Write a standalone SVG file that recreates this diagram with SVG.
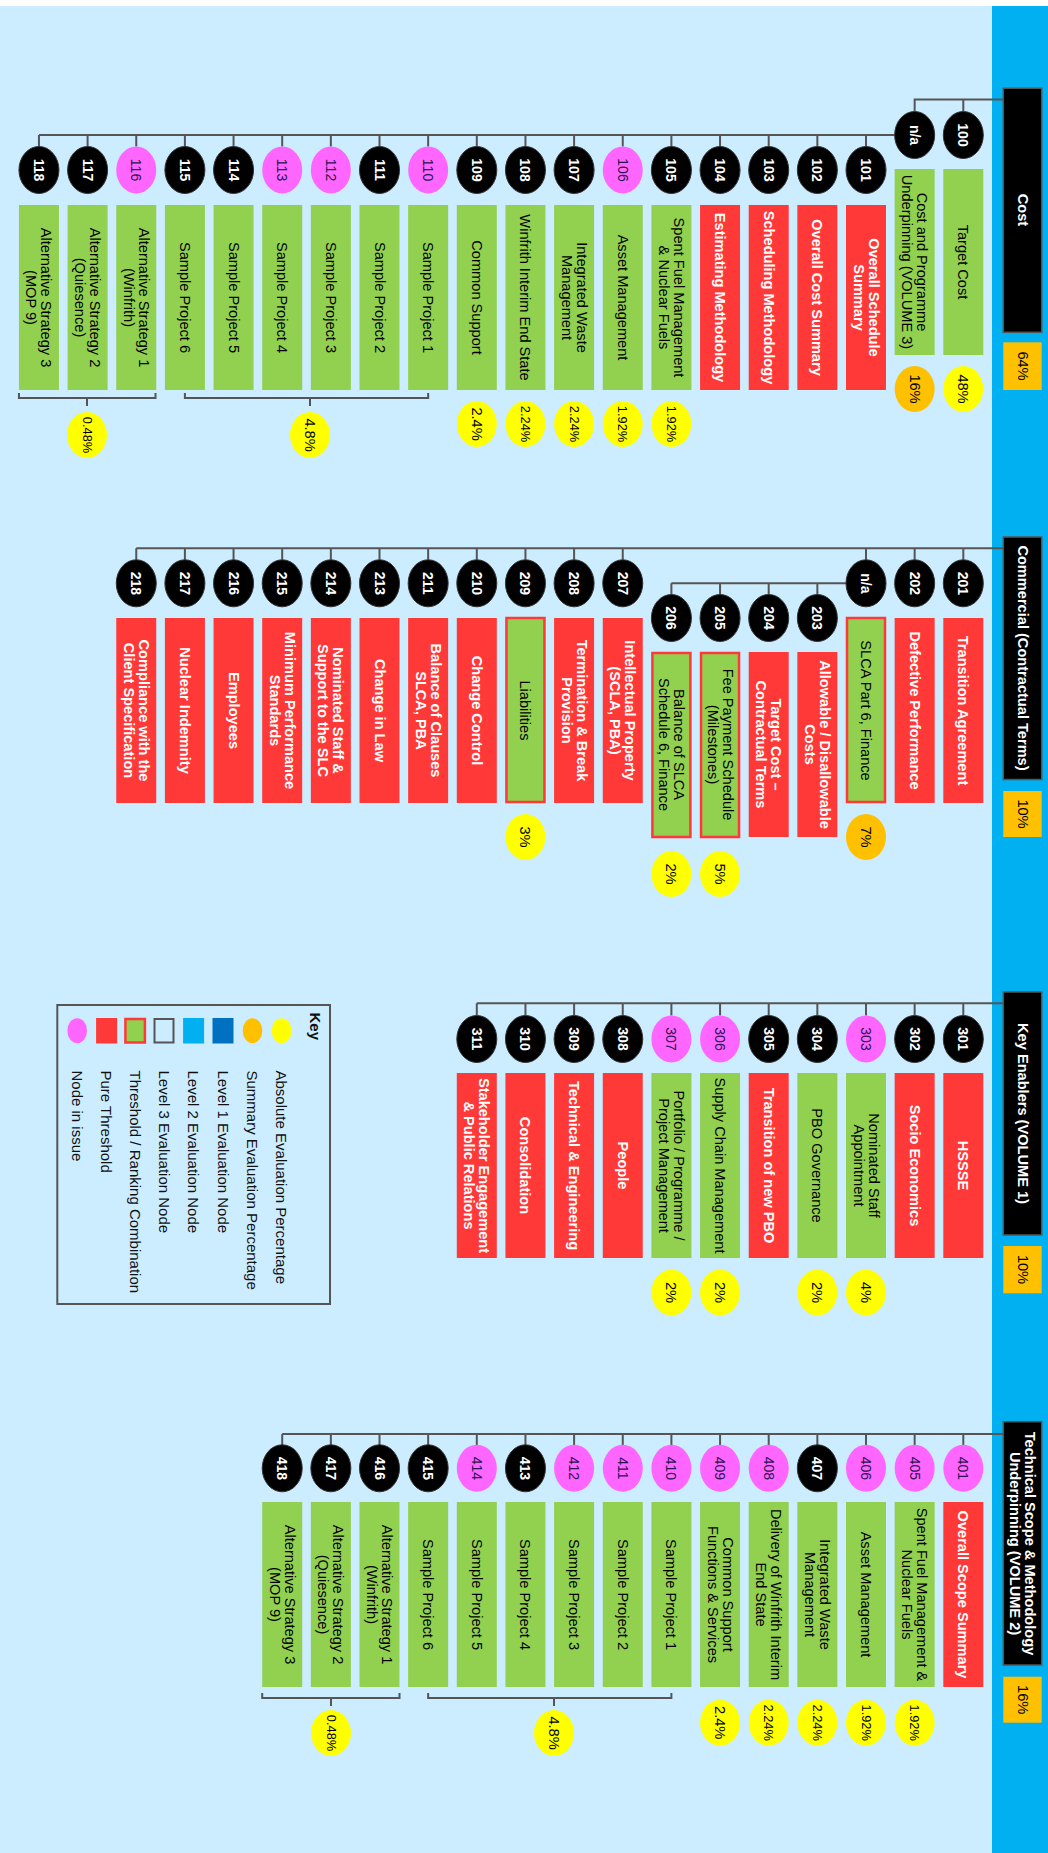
<svg xmlns="http://www.w3.org/2000/svg" width="1048" height="1853" viewBox="0 0 1048 1853">
<style>
.t{font-family:"Liberation Sans",Arial,sans-serif;font-size:14.6px;text-anchor:middle;dominant-baseline:central}
.nl{font-size:14px;font-weight:bold}
.ps{font-size:12.8px}
.wb{fill:#fff;font-weight:bold}
.bk{fill:#000}
.pk{fill:#2a1450;font-weight:normal}
.ln{stroke:#555;stroke-width:2;fill:none}
.hdr{fill:#000;stroke:#555;stroke-width:1.5}
.ob{fill:#FFC000}
.nb{fill:#000;stroke:#333;stroke-width:1}
.np{fill:#FF66FF}
.r{fill:#FF3838}
.g{fill:#92D050}
.gr{fill:#92D050;stroke:#FF3838;stroke-width:2.5}
.y{fill:#FFFF00}
.o{fill:#FFC000}
.kt{font-family:"Liberation Sans",Arial,sans-serif;font-size:15px;dominant-baseline:central;fill:#111}
</style>
<rect x="0" y="0" width="1048" height="1853" fill="#CCECFF"/>
<rect x="0" y="0" width="1048" height="6" fill="#fff"/>
<rect x="992" y="6" width="56" height="1847" fill="#00B0F0"/>

<g id="connectors">
<path class="ln" d="M1003,99.5 H914.65 V111.5 M963.3,99.5 V111.5 M894.65,135 H38.95 M866,135 V146.5 M817.35,135 V146.5 M768.7,135 V146.5 M720.05,135 V146.5 M671.4,135 V146.5 M622.75,135 V146.5 M574.1,135 V146.5 M525.45,135 V146.5 M476.8,135 V146.5 M428.15,135 V146.5 M379.5,135 V146.5 M330.85,135 V146.5 M282.2,135 V146.5 M233.55,135 V146.5 M184.9,135 V146.5 M136.25,135 V146.5 M87.6,135 V146.5 M38.95,135 V146.5"/>
<path class="ln" d="M18.95,393 V398 H155.5 V393 M87,398 V406 M184.9,393 V398 H428.15 V393 M310,398 V406"/>
<path class="ln" d="M1003,548.3 H136.25 M963.3,548.3 V559.8 M914.65,548.3 V559.8 M866,548.3 V559.8 M622.75,548.3 V559.8 M574.1,548.3 V559.8 M525.45,548.3 V559.8 M476.8,548.3 V559.8 M428.15,548.3 V559.8 M379.5,548.3 V559.8 M330.85,548.3 V559.8 M282.2,548.3 V559.8 M233.55,548.3 V559.8 M184.9,548.3 V559.8 M136.25,548.3 V559.8 M846,583.3 H671.4 M817.35,583.3 V594.5 M768.7,583.3 V594.5 M720.05,583.3 V594.5 M671.4,583.3 V594.5"/>
<path class="ln" d="M1003,1003.3 H476.8 M963.3,1003.3 V1015.5 M914.65,1003.3 V1015.5 M866,1003.3 V1015.5 M817.35,1003.3 V1015.5 M768.7,1003.3 V1015.5 M720.05,1003.3 V1015.5 M671.4,1003.3 V1015.5 M622.75,1003.3 V1015.5 M574.1,1003.3 V1015.5 M525.45,1003.3 V1015.5 M476.8,1003.3 V1015.5"/>
<path class="ln" d="M1003,1434 H282.2 M963.3,1434 V1445 M914.65,1434 V1445 M866,1434 V1445 M817.35,1434 V1445 M768.7,1434 V1445 M720.05,1434 V1445 M671.4,1434 V1445 M622.75,1434 V1445 M574.1,1434 V1445 M525.45,1434 V1445 M476.8,1434 V1445 M428.15,1434 V1445 M379.5,1434 V1445 M330.85,1434 V1445 M282.2,1434 V1445"/>
<path class="ln" d="M428.15,1693 V1698 H671.4 V1693 M554,1698 V1706 M262.2,1693 V1698 H399.5 V1693 M331,1698 V1706"/>
</g>

<!-- ===== COST ===== -->
<g id="cost">
<rect class="hdr" x="1003.3" y="88.3" width="38.4" height="244"/>
<text class="t wb" transform="translate(1022.5,210) rotate(90)">Cost</text>
<rect class="ob" x="1003.3" y="342.3" width="38.4" height="47.7"/>
<text class="t bk" transform="translate(1022.5,366) rotate(90)">64%</text>
</g>
<g id="c100"><ellipse class="nb" cx="963.3" cy="135" rx="20" ry="23.5"/><text class="t nl wb" transform="translate(963.3,135) rotate(90)">100</text><rect class="g" x="943.3" y="169" width="40" height="186"/><text class="t bk" transform="translate(963.3,262) rotate(90)">Target Cost</text><ellipse class="y" cx="963.3" cy="389" rx="20" ry="23"/><text class="t bk" transform="translate(963.3,389) rotate(90)">48%</text></g>
<g id="cna"><ellipse class="nb" cx="914.65" cy="135" rx="20" ry="23.5"/><text class="t nl wb" transform="translate(914.65,135) rotate(90)">n/a</text><rect class="g" x="894.65" y="169" width="40" height="186"/><text class="t bk" transform="translate(914.65,262) rotate(90)"><tspan x="0" y="-7.5">Cost and Programme</tspan><tspan x="0" y="7.5">Underpinning (VOLUME 3)</tspan></text><ellipse class="o" cx="914.65" cy="389" rx="20" ry="23"/><text class="t bk" transform="translate(914.65,389) rotate(90)">16%</text></g>
<g id="c101"><ellipse class="nb" cx="866" cy="170" rx="20" ry="23.5"/><text class="t nl wb" transform="translate(866,170) rotate(90)">101</text><rect class="r" x="846" y="205" width="40" height="185"/><text class="t wb" transform="translate(866,297.5) rotate(90)"><tspan x="0" y="-7.5">Overall Schedule</tspan><tspan x="0" y="7.5">Summary</tspan></text></g>
<g id="c102"><ellipse class="nb" cx="817.35" cy="170" rx="20" ry="23.5"/><text class="t nl wb" transform="translate(817.35,170) rotate(90)">102</text><rect class="r" x="797.35" y="205" width="40" height="185"/><text class="t wb" transform="translate(817.35,297.5) rotate(90)">Overall Cost Summary</text></g>
<g id="c103"><ellipse class="nb" cx="768.7" cy="170" rx="20" ry="23.5"/><text class="t nl wb" transform="translate(768.7,170) rotate(90)">103</text><rect class="r" x="748.7" y="205" width="40" height="185"/><text class="t wb" transform="translate(768.7,297.5) rotate(90)">Scheduling Methodology</text></g>
<g id="c104"><ellipse class="nb" cx="720.05" cy="170" rx="20" ry="23.5"/><text class="t nl wb" transform="translate(720.05,170) rotate(90)">104</text><rect class="r" x="700.05" y="205" width="40" height="185"/><text class="t wb" transform="translate(720.05,297.5) rotate(90)">Estimating Methodology</text></g>
<g id="c105"><ellipse class="nb" cx="671.4" cy="170" rx="20" ry="23.5"/><text class="t nl wb" transform="translate(671.4,170) rotate(90)">105</text><rect class="g" x="651.4" y="205" width="40" height="185"/><text class="t bk" transform="translate(671.4,297.5) rotate(90)"><tspan x="0" y="-7.5">Spent Fuel Management</tspan><tspan x="0" y="7.5">&amp; Nuclear Fuels</tspan></text><ellipse class="y" cx="671.4" cy="424" rx="20" ry="23"/><text class="t ps bk" transform="translate(671.4,424) rotate(90)">1.92%</text></g>
<g id="c106"><ellipse class="np" cx="622.75" cy="170" rx="20" ry="23.5"/><text class="t nl pk" transform="translate(622.75,170) rotate(90)">106</text><rect class="g" x="602.75" y="205" width="40" height="185"/><text class="t bk" transform="translate(622.75,297.5) rotate(90)">Asset Management</text><ellipse class="y" cx="622.75" cy="424" rx="20" ry="23"/><text class="t ps bk" transform="translate(622.75,424) rotate(90)">1.92%</text></g>
<g id="c107"><ellipse class="nb" cx="574.1" cy="170" rx="20" ry="23.5"/><text class="t nl wb" transform="translate(574.1,170) rotate(90)">107</text><rect class="g" x="554.1" y="205" width="40" height="185"/><text class="t bk" transform="translate(574.1,297.5) rotate(90)"><tspan x="0" y="-7.5">Integrated Waste</tspan><tspan x="0" y="7.5">Management</tspan></text><ellipse class="y" cx="574.1" cy="424" rx="20" ry="23"/><text class="t ps bk" transform="translate(574.1,424) rotate(90)">2.24%</text></g>
<g id="c108"><ellipse class="nb" cx="525.45" cy="170" rx="20" ry="23.5"/><text class="t nl wb" transform="translate(525.45,170) rotate(90)">108</text><rect class="g" x="505.45" y="205" width="40" height="185"/><text class="t bk" transform="translate(525.45,297.5) rotate(90)">Winfrith Interim End State</text><ellipse class="y" cx="525.45" cy="424" rx="20" ry="23"/><text class="t ps bk" transform="translate(525.45,424) rotate(90)">2.24%</text></g>
<g id="c109"><ellipse class="nb" cx="476.8" cy="170" rx="20" ry="23.5"/><text class="t nl wb" transform="translate(476.8,170) rotate(90)">109</text><rect class="g" x="456.8" y="205" width="40" height="185"/><text class="t bk" transform="translate(476.8,297.5) rotate(90)">Common Support</text><ellipse class="y" cx="476.8" cy="424" rx="20" ry="23"/><text class="t bk" transform="translate(476.8,424) rotate(90)">2.4%</text></g>
<g id="c110"><ellipse class="np" cx="428.15" cy="170" rx="20" ry="23.5"/><text class="t nl pk" transform="translate(428.15,170) rotate(90)">110</text><rect class="g" x="408.15" y="205" width="40" height="185"/><text class="t bk" transform="translate(428.15,297.5) rotate(90)">Sample Project 1</text></g>
<g id="c111"><ellipse class="nb" cx="379.5" cy="170" rx="20" ry="23.5"/><text class="t nl wb" transform="translate(379.5,170) rotate(90)">111</text><rect class="g" x="359.5" y="205" width="40" height="185"/><text class="t bk" transform="translate(379.5,297.5) rotate(90)">Sample Project 2</text></g>
<g id="c112"><ellipse class="np" cx="330.85" cy="170" rx="20" ry="23.5"/><text class="t nl pk" transform="translate(330.85,170) rotate(90)">112</text><rect class="g" x="310.85" y="205" width="40" height="185"/><text class="t bk" transform="translate(330.85,297.5) rotate(90)">Sample Project 3</text></g>
<g id="c113"><ellipse class="np" cx="282.2" cy="170" rx="20" ry="23.5"/><text class="t nl pk" transform="translate(282.2,170) rotate(90)">113</text><rect class="g" x="262.2" y="205" width="40" height="185"/><text class="t bk" transform="translate(282.2,297.5) rotate(90)">Sample Project 4</text></g>
<g id="c114"><ellipse class="nb" cx="233.55" cy="170" rx="20" ry="23.5"/><text class="t nl wb" transform="translate(233.55,170) rotate(90)">114</text><rect class="g" x="213.55" y="205" width="40" height="185"/><text class="t bk" transform="translate(233.55,297.5) rotate(90)">Sample Project 5</text></g>
<g id="c115"><ellipse class="nb" cx="184.9" cy="170" rx="20" ry="23.5"/><text class="t nl wb" transform="translate(184.9,170) rotate(90)">115</text><rect class="g" x="164.9" y="205" width="40" height="185"/><text class="t bk" transform="translate(184.9,297.5) rotate(90)">Sample Project 6</text></g>
<g id="c116"><ellipse class="np" cx="136.25" cy="170" rx="20" ry="23.5"/><text class="t nl pk" transform="translate(136.25,170) rotate(90)">116</text><rect class="g" x="116.25" y="205" width="40" height="185"/><text class="t bk" transform="translate(136.25,297.5) rotate(90)"><tspan x="0" y="-7.5">Alternative Strategy 1</tspan><tspan x="0" y="7.5">(Winfrith)</tspan></text></g>
<g id="c117"><ellipse class="nb" cx="87.6" cy="170" rx="20" ry="23.5"/><text class="t nl wb" transform="translate(87.6,170) rotate(90)">117</text><rect class="g" x="67.6" y="205" width="40" height="185"/><text class="t bk" transform="translate(87.6,297.5) rotate(90)"><tspan x="0" y="-7.5">Alternative Strategy 2</tspan><tspan x="0" y="7.5">(Quiesence)</tspan></text></g>
<g id="c118"><ellipse class="nb" cx="38.95" cy="170" rx="20" ry="23.5"/><text class="t nl wb" transform="translate(38.95,170) rotate(90)">118</text><rect class="g" x="18.95" y="205" width="40" height="185"/><text class="t bk" transform="translate(38.95,297.5) rotate(90)"><tspan x="0" y="-7.5">Alternative Strategy 3</tspan><tspan x="0" y="7.5">(MOP 9)</tspan></text></g>
<g id="c-p1"><ellipse class="y" cx="87" cy="435" rx="20" ry="23"/><text class="t ps bk" transform="translate(87,435) rotate(90)">0.48%</text></g>
<g id="c-p2"><ellipse class="y" cx="310" cy="435" rx="20" ry="23"/><text class="t bk" transform="translate(310,435) rotate(90)">4.8%</text></g>

<!-- ===== COMMERCIAL ===== -->
<g id="commercial">
<rect class="hdr" x="1003.3" y="537" width="38.4" height="242.5"/>
<text class="t wb" transform="translate(1022.5,658) rotate(90)">Commercial (Contractual Terms)</text>
<rect class="ob" x="1003.3" y="791" width="38.4" height="46"/>
<text class="t bk" transform="translate(1022.5,814) rotate(90)">10%</text>
</g>
<g id="m201"><ellipse class="nb" cx="963.3" cy="583.3" rx="20" ry="23.5"/><text class="t nl wb" transform="translate(963.3,583.3) rotate(90)">201</text><rect class="r" x="943.3" y="618" width="40" height="185"/><text class="t wb" transform="translate(963.3,710.5) rotate(90)">Transition Agreement</text></g>
<g id="m202"><ellipse class="nb" cx="914.65" cy="583.3" rx="20" ry="23.5"/><text class="t nl wb" transform="translate(914.65,583.3) rotate(90)">202</text><rect class="r" x="894.65" y="618" width="40" height="185"/><text class="t wb" transform="translate(914.65,710.5) rotate(90)">Defective Performance</text></g>
<g id="mna"><ellipse class="nb" cx="866" cy="583.3" rx="20" ry="23.5"/><text class="t nl wb" transform="translate(866,583.3) rotate(90)">n/a</text><rect class="gr" x="847" y="618" width="38" height="184"/><text class="t bk" transform="translate(866,710.5) rotate(90)">SLCA Part 6, Finance</text><ellipse class="o" cx="866" cy="837" rx="20" ry="23"/><text class="t bk" transform="translate(866,837) rotate(90)">7%</text></g>
<g id="m203"><ellipse class="nb" cx="817.35" cy="618" rx="20" ry="23.5"/><text class="t nl wb" transform="translate(817.35,618) rotate(90)">203</text><rect class="r" x="797.35" y="652" width="40" height="185"/><text class="t wb" transform="translate(817.35,744.5) rotate(90)"><tspan x="0" y="-7.5">Allowable / Disallowable</tspan><tspan x="0" y="7.5">Costs</tspan></text></g>
<g id="m204"><ellipse class="nb" cx="768.7" cy="618" rx="20" ry="23.5"/><text class="t nl wb" transform="translate(768.7,618) rotate(90)">204</text><rect class="r" x="748.7" y="652" width="40" height="185"/><text class="t wb" transform="translate(768.7,744.5) rotate(90)"><tspan x="0" y="-7.5">Target Cost –</tspan><tspan x="0" y="7.5">Contractual Terms</tspan></text></g>
<g id="m205"><ellipse class="nb" cx="720.05" cy="618" rx="20" ry="23.5"/><text class="t nl wb" transform="translate(720.05,618) rotate(90)">205</text><rect class="gr" x="701.05" y="653" width="38" height="184"/><text class="t bk" transform="translate(720.05,744.5) rotate(90)"><tspan x="0" y="-7.5">Fee Payment Schedule</tspan><tspan x="0" y="7.5">(Milestones)</tspan></text><ellipse class="y" cx="720.05" cy="874" rx="20" ry="23"/><text class="t bk" transform="translate(720.05,874) rotate(90)">5%</text></g>
<g id="m206"><ellipse class="nb" cx="671.4" cy="618" rx="20" ry="23.5"/><text class="t nl wb" transform="translate(671.4,618) rotate(90)">206</text><rect class="gr" x="652.4" y="653" width="38" height="184"/><text class="t bk" transform="translate(671.4,744.5) rotate(90)"><tspan x="0" y="-7.5">Balance of SLCA</tspan><tspan x="0" y="7.5">Schedule 6, Finance</tspan></text><ellipse class="y" cx="671.4" cy="874" rx="20" ry="23"/><text class="t bk" transform="translate(671.4,874) rotate(90)">2%</text></g>
<g id="m207"><ellipse class="nb" cx="622.75" cy="583.3" rx="20" ry="23.5"/><text class="t nl wb" transform="translate(622.75,583.3) rotate(90)">207</text><rect class="r" x="602.75" y="618" width="40" height="185"/><text class="t wb" transform="translate(622.75,710.5) rotate(90)"><tspan x="0" y="-7.5">Intellectual Property</tspan><tspan x="0" y="7.5">(SCLA, PBA)</tspan></text></g>
<g id="m208"><ellipse class="nb" cx="574.1" cy="583.3" rx="20" ry="23.5"/><text class="t nl wb" transform="translate(574.1,583.3) rotate(90)">208</text><rect class="r" x="554.1" y="618" width="40" height="185"/><text class="t wb" transform="translate(574.1,710.5) rotate(90)"><tspan x="0" y="-7.5">Termination &amp; Break</tspan><tspan x="0" y="7.5">Provision</tspan></text></g>
<g id="m209"><ellipse class="nb" cx="525.45" cy="583.3" rx="20" ry="23.5"/><text class="t nl wb" transform="translate(525.45,583.3) rotate(90)">209</text><rect class="gr" x="506.45" y="618" width="38" height="184"/><text class="t bk" transform="translate(525.45,710.5) rotate(90)">Liabilities</text><ellipse class="y" cx="525.45" cy="837" rx="20" ry="23"/><text class="t bk" transform="translate(525.45,837) rotate(90)">3%</text></g>
<g id="m210"><ellipse class="nb" cx="476.8" cy="583.3" rx="20" ry="23.5"/><text class="t nl wb" transform="translate(476.8,583.3) rotate(90)">210</text><rect class="r" x="456.8" y="618" width="40" height="185"/><text class="t wb" transform="translate(476.8,710.5) rotate(90)">Change Control</text></g>
<g id="m211"><ellipse class="nb" cx="428.15" cy="583.3" rx="20" ry="23.5"/><text class="t nl wb" transform="translate(428.15,583.3) rotate(90)">211</text><rect class="r" x="408.15" y="618" width="40" height="185"/><text class="t wb" transform="translate(428.15,710.5) rotate(90)"><tspan x="0" y="-7.5">Balance of Clauses</tspan><tspan x="0" y="7.5">SLCA, PBA</tspan></text></g>
<g id="m213"><ellipse class="nb" cx="379.5" cy="583.3" rx="20" ry="23.5"/><text class="t nl wb" transform="translate(379.5,583.3) rotate(90)">213</text><rect class="r" x="359.5" y="618" width="40" height="185"/><text class="t wb" transform="translate(379.5,710.5) rotate(90)">Change in Law</text></g>
<g id="m214"><ellipse class="nb" cx="330.85" cy="583.3" rx="20" ry="23.5"/><text class="t nl wb" transform="translate(330.85,583.3) rotate(90)">214</text><rect class="r" x="310.85" y="618" width="40" height="185"/><text class="t wb" transform="translate(330.85,710.5) rotate(90)"><tspan x="0" y="-7.5">Nominated Staff &amp;</tspan><tspan x="0" y="7.5">Support to the SLC</tspan></text></g>
<g id="m215"><ellipse class="nb" cx="282.2" cy="583.3" rx="20" ry="23.5"/><text class="t nl wb" transform="translate(282.2,583.3) rotate(90)">215</text><rect class="r" x="262.2" y="618" width="40" height="185"/><text class="t wb" transform="translate(282.2,710.5) rotate(90)"><tspan x="0" y="-7.5">Minimum Performance</tspan><tspan x="0" y="7.5">Standards</tspan></text></g>
<g id="m216"><ellipse class="nb" cx="233.55" cy="583.3" rx="20" ry="23.5"/><text class="t nl wb" transform="translate(233.55,583.3) rotate(90)">216</text><rect class="r" x="213.55" y="618" width="40" height="185"/><text class="t wb" transform="translate(233.55,710.5) rotate(90)">Employees</text></g>
<g id="m217"><ellipse class="nb" cx="184.9" cy="583.3" rx="20" ry="23.5"/><text class="t nl wb" transform="translate(184.9,583.3) rotate(90)">217</text><rect class="r" x="164.9" y="618" width="40" height="185"/><text class="t wb" transform="translate(184.9,710.5) rotate(90)">Nuclear Indemnity</text></g>
<g id="m218"><ellipse class="nb" cx="136.25" cy="583.3" rx="20" ry="23.5"/><text class="t nl wb" transform="translate(136.25,583.3) rotate(90)">218</text><rect class="r" x="116.25" y="618" width="40" height="185"/><text class="t wb" transform="translate(136.25,710.5) rotate(90)"><tspan x="0" y="-7.5">Compliance with the</tspan><tspan x="0" y="7.5">Client Specification</tspan></text></g>

<!-- ===== KEY ENABLERS ===== -->
<g id="enablers">
<rect class="hdr" x="1003.3" y="992" width="38.4" height="243"/>
<text class="t wb" transform="translate(1022.5,1113.5) rotate(90)">Key Enablers (VOLUME 1)</text>
<rect class="ob" x="1003.3" y="1246" width="38.4" height="47.3"/>
<text class="t bk" transform="translate(1022.5,1269.5) rotate(90)">10%</text>
</g>
<g id="k301"><ellipse class="nb" cx="963.3" cy="1039" rx="20" ry="23.5"/><text class="t nl wb" transform="translate(963.3,1039) rotate(90)">301</text><rect class="r" x="943.3" y="1073" width="40" height="185"/><text class="t wb" transform="translate(963.3,1165.5) rotate(90)">HSSSE</text></g>
<g id="k302"><ellipse class="nb" cx="914.65" cy="1039" rx="20" ry="23.5"/><text class="t nl wb" transform="translate(914.65,1039) rotate(90)">302</text><rect class="r" x="894.65" y="1073" width="40" height="185"/><text class="t wb" transform="translate(914.65,1165.5) rotate(90)">Socio Economics</text></g>
<g id="k303"><ellipse class="np" cx="866" cy="1039" rx="20" ry="23.5"/><text class="t nl pk" transform="translate(866,1039) rotate(90)">303</text><rect class="g" x="846" y="1073" width="40" height="185"/><text class="t bk" transform="translate(866,1165.5) rotate(90)"><tspan x="0" y="-7.5">Nominated Staff</tspan><tspan x="0" y="7.5">Appointment</tspan></text><ellipse class="y" cx="866" cy="1292.5" rx="20" ry="23"/><text class="t bk" transform="translate(866,1292.5) rotate(90)">4%</text></g>
<g id="k304"><ellipse class="nb" cx="817.35" cy="1039" rx="20" ry="23.5"/><text class="t nl wb" transform="translate(817.35,1039) rotate(90)">304</text><rect class="g" x="797.35" y="1073" width="40" height="185"/><text class="t bk" transform="translate(817.35,1165.5) rotate(90)">PBO Governance</text><ellipse class="y" cx="817.35" cy="1292.5" rx="20" ry="23"/><text class="t bk" transform="translate(817.35,1292.5) rotate(90)">2%</text></g>
<g id="k305"><ellipse class="nb" cx="768.7" cy="1039" rx="20" ry="23.5"/><text class="t nl wb" transform="translate(768.7,1039) rotate(90)">305</text><rect class="r" x="748.7" y="1073" width="40" height="185"/><text class="t wb" transform="translate(768.7,1165.5) rotate(90)">Transition of new PBO</text></g>
<g id="k306"><ellipse class="np" cx="720.05" cy="1039" rx="20" ry="23.5"/><text class="t nl pk" transform="translate(720.05,1039) rotate(90)">306</text><rect class="g" x="700.05" y="1073" width="40" height="185"/><text class="t bk" transform="translate(720.05,1165.5) rotate(90)">Supply Chain Management</text><ellipse class="y" cx="720.05" cy="1292.5" rx="20" ry="23"/><text class="t bk" transform="translate(720.05,1292.5) rotate(90)">2%</text></g>
<g id="k307"><ellipse class="np" cx="671.4" cy="1039" rx="20" ry="23.5"/><text class="t nl pk" transform="translate(671.4,1039) rotate(90)">307</text><rect class="g" x="651.4" y="1073" width="40" height="185"/><text class="t bk" transform="translate(671.4,1165.5) rotate(90)"><tspan x="0" y="-7.5">Portfolio / Programme /</tspan><tspan x="0" y="7.5">Project Management</tspan></text><ellipse class="y" cx="671.4" cy="1292.5" rx="20" ry="23"/><text class="t bk" transform="translate(671.4,1292.5) rotate(90)">2%</text></g>
<g id="k308"><ellipse class="nb" cx="622.75" cy="1039" rx="20" ry="23.5"/><text class="t nl wb" transform="translate(622.75,1039) rotate(90)">308</text><rect class="r" x="602.75" y="1073" width="40" height="185"/><text class="t wb" transform="translate(622.75,1165.5) rotate(90)">People</text></g>
<g id="k309"><ellipse class="nb" cx="574.1" cy="1039" rx="20" ry="23.5"/><text class="t nl wb" transform="translate(574.1,1039) rotate(90)">309</text><rect class="r" x="554.1" y="1073" width="40" height="185"/><text class="t wb" transform="translate(574.1,1165.5) rotate(90)">Technical &amp; Engineering</text></g>
<g id="k310"><ellipse class="nb" cx="525.45" cy="1039" rx="20" ry="23.5"/><text class="t nl wb" transform="translate(525.45,1039) rotate(90)">310</text><rect class="r" x="505.45" y="1073" width="40" height="185"/><text class="t wb" transform="translate(525.45,1165.5) rotate(90)">Consolidation</text></g>
<g id="k311"><ellipse class="nb" cx="476.8" cy="1039" rx="20" ry="23.5"/><text class="t nl wb" transform="translate(476.8,1039) rotate(90)">311</text><rect class="r" x="456.8" y="1073" width="40" height="185"/><text class="t wb" transform="translate(476.8,1165.5) rotate(90)"><tspan x="0" y="-7.5">Stakeholder Engagement</tspan><tspan x="0" y="7.5">&amp; Public Relations</tspan></text></g>

<!-- ===== KEY ===== -->
<g id="legend">
<rect x="57.3" y="1005" width="272.7" height="299" fill="none" stroke="#555" stroke-width="2"/>
<text class="kt" font-weight="bold" transform="translate(315.7,1012.5) rotate(90)">Key</text>
<ellipse class="y" cx="281.6" cy="1030.7" rx="9.8" ry="12.5"/>
<text class="kt" transform="translate(281.6,1070.5) rotate(90)">Absolute Evaluation Percentage</text>
<ellipse class="o" cx="252.5" cy="1030.7" rx="9.8" ry="12.5"/>
<text class="kt" transform="translate(252.5,1070.5) rotate(90)">Summary Evaluation Percentage</text>
<rect x="212.5" y="1018" width="21" height="25.5" fill="#0070C0"/>
<text class="kt" transform="translate(223,1070.5) rotate(90)">Level 1 Evaluation Node</text>
<rect x="183.1" y="1018" width="21" height="25.5" fill="#00B0F0"/>
<text class="kt" transform="translate(193.6,1070.5) rotate(90)">Level 2 Evaluation Node</text>
<rect x="154.5" y="1019" width="19" height="23.5" fill="none" stroke="#555" stroke-width="2"/>
<text class="kt" transform="translate(164.5,1070.5) rotate(90)">Level 3 Evaluation Node</text>
<rect class="gr" x="125.4" y="1019" width="19.5" height="23.5"/>
<text class="kt" transform="translate(135.4,1070.5) rotate(90)">Threshold / Ranking Combination</text>
<rect class="r" x="96.1" y="1018" width="21" height="25.5"/>
<text class="kt" transform="translate(106.6,1070.5) rotate(90)">Pure Threshold</text>
<ellipse class="np" cx="77.2" cy="1030.7" rx="9.8" ry="12.5"/>
<text class="kt" transform="translate(77.2,1070.5) rotate(90)">Node in issue</text>
</g>

<!-- ===== TECHNICAL ===== -->
<g id="technical">
<rect class="hdr" x="1003.3" y="1421.7" width="38.4" height="243.3"/>
<text class="t wb" transform="translate(1022.5,1543.5) rotate(90)"><tspan x="0" y="-7.5">Technical Scope &amp; Methodology</tspan><tspan x="0" y="7.5">Underpinning (VOLUME 2)</tspan></text>
<rect class="ob" x="1003.3" y="1676.7" width="38.4" height="46"/>
<text class="t bk" transform="translate(1022.5,1699.7) rotate(90)">16%</text>
</g>
<g id="t401"><ellipse class="np" cx="963.3" cy="1468.3" rx="20" ry="23.5"/><text class="t nl pk" transform="translate(963.3,1468.3) rotate(90)">401</text><rect class="r" x="943.3" y="1502" width="40" height="185"/><text class="t wb" transform="translate(963.3,1594.5) rotate(90)">Overall Scope Summary</text></g>
<g id="t405"><ellipse class="np" cx="914.65" cy="1468.3" rx="20" ry="23.5"/><text class="t nl pk" transform="translate(914.65,1468.3) rotate(90)">405</text><rect class="g" x="894.65" y="1502" width="40" height="185"/><text class="t bk" transform="translate(914.65,1594.5) rotate(90)"><tspan x="0" y="-7.5">Spent Fuel Management &amp;</tspan><tspan x="0" y="7.5">Nuclear Fuels</tspan></text><ellipse class="y" cx="914.65" cy="1722.7" rx="20" ry="23"/><text class="t ps bk" transform="translate(914.65,1722.7) rotate(90)">1.92%</text></g>
<g id="t406"><ellipse class="np" cx="866" cy="1468.3" rx="20" ry="23.5"/><text class="t nl pk" transform="translate(866,1468.3) rotate(90)">406</text><rect class="g" x="846" y="1502" width="40" height="185"/><text class="t bk" transform="translate(866,1594.5) rotate(90)">Asset Management</text><ellipse class="y" cx="866" cy="1722.7" rx="20" ry="23"/><text class="t ps bk" transform="translate(866,1722.7) rotate(90)">1.92%</text></g>
<g id="t407"><ellipse class="nb" cx="817.35" cy="1468.3" rx="20" ry="23.5"/><text class="t nl wb" transform="translate(817.35,1468.3) rotate(90)">407</text><rect class="g" x="797.35" y="1502" width="40" height="185"/><text class="t bk" transform="translate(817.35,1594.5) rotate(90)"><tspan x="0" y="-7.5">Integrated Waste</tspan><tspan x="0" y="7.5">Management</tspan></text><ellipse class="y" cx="817.35" cy="1722.7" rx="20" ry="23"/><text class="t ps bk" transform="translate(817.35,1722.7) rotate(90)">2.24%</text></g>
<g id="t408"><ellipse class="np" cx="768.7" cy="1468.3" rx="20" ry="23.5"/><text class="t nl pk" transform="translate(768.7,1468.3) rotate(90)">408</text><rect class="g" x="748.7" y="1502" width="40" height="185"/><text class="t bk" transform="translate(768.7,1594.5) rotate(90)"><tspan x="0" y="-7.5">Delivery of Winfrith Interim</tspan><tspan x="0" y="7.5">End State</tspan></text><ellipse class="y" cx="768.7" cy="1722.7" rx="20" ry="23"/><text class="t ps bk" transform="translate(768.7,1722.7) rotate(90)">2.24%</text></g>
<g id="t409"><ellipse class="np" cx="720.05" cy="1468.3" rx="20" ry="23.5"/><text class="t nl pk" transform="translate(720.05,1468.3) rotate(90)">409</text><rect class="g" x="700.05" y="1502" width="40" height="185"/><text class="t bk" transform="translate(720.05,1594.5) rotate(90)"><tspan x="0" y="-7.5">Common Support</tspan><tspan x="0" y="7.5">Functions &amp; Services</tspan></text><ellipse class="y" cx="720.05" cy="1722.7" rx="20" ry="23"/><text class="t bk" transform="translate(720.05,1722.7) rotate(90)">2.4%</text></g>
<g id="t410"><ellipse class="np" cx="671.4" cy="1468.3" rx="20" ry="23.5"/><text class="t nl pk" transform="translate(671.4,1468.3) rotate(90)">410</text><rect class="g" x="651.4" y="1502" width="40" height="185"/><text class="t bk" transform="translate(671.4,1594.5) rotate(90)">Sample Project 1</text></g>
<g id="t411"><ellipse class="np" cx="622.75" cy="1468.3" rx="20" ry="23.5"/><text class="t nl pk" transform="translate(622.75,1468.3) rotate(90)">411</text><rect class="g" x="602.75" y="1502" width="40" height="185"/><text class="t bk" transform="translate(622.75,1594.5) rotate(90)">Sample Project 2</text></g>
<g id="t412"><ellipse class="np" cx="574.1" cy="1468.3" rx="20" ry="23.5"/><text class="t nl pk" transform="translate(574.1,1468.3) rotate(90)">412</text><rect class="g" x="554.1" y="1502" width="40" height="185"/><text class="t bk" transform="translate(574.1,1594.5) rotate(90)">Sample Project 3</text></g>
<g id="t413"><ellipse class="nb" cx="525.45" cy="1468.3" rx="20" ry="23.5"/><text class="t nl wb" transform="translate(525.45,1468.3) rotate(90)">413</text><rect class="g" x="505.45" y="1502" width="40" height="185"/><text class="t bk" transform="translate(525.45,1594.5) rotate(90)">Sample Project 4</text></g>
<g id="t414"><ellipse class="np" cx="476.8" cy="1468.3" rx="20" ry="23.5"/><text class="t nl pk" transform="translate(476.8,1468.3) rotate(90)">414</text><rect class="g" x="456.8" y="1502" width="40" height="185"/><text class="t bk" transform="translate(476.8,1594.5) rotate(90)">Sample Project 5</text></g>
<g id="t415"><ellipse class="nb" cx="428.15" cy="1468.3" rx="20" ry="23.5"/><text class="t nl wb" transform="translate(428.15,1468.3) rotate(90)">415</text><rect class="g" x="408.15" y="1502" width="40" height="185"/><text class="t bk" transform="translate(428.15,1594.5) rotate(90)">Sample Project 6</text></g>
<g id="t416"><ellipse class="nb" cx="379.5" cy="1468.3" rx="20" ry="23.5"/><text class="t nl wb" transform="translate(379.5,1468.3) rotate(90)">416</text><rect class="g" x="359.5" y="1502" width="40" height="185"/><text class="t bk" transform="translate(379.5,1594.5) rotate(90)"><tspan x="0" y="-7.5">Alternative Strategy 1</tspan><tspan x="0" y="7.5">(Winfrith)</tspan></text></g>
<g id="t417"><ellipse class="nb" cx="330.85" cy="1468.3" rx="20" ry="23.5"/><text class="t nl wb" transform="translate(330.85,1468.3) rotate(90)">417</text><rect class="g" x="310.85" y="1502" width="40" height="185"/><text class="t bk" transform="translate(330.85,1594.5) rotate(90)"><tspan x="0" y="-7.5">Alternative Strategy 2</tspan><tspan x="0" y="7.5">(Quiesence)</tspan></text></g>
<g id="t418"><ellipse class="nb" cx="282.2" cy="1468.3" rx="20" ry="23.5"/><text class="t nl wb" transform="translate(282.2,1468.3) rotate(90)">418</text><rect class="g" x="262.2" y="1502" width="40" height="185"/><text class="t bk" transform="translate(282.2,1594.5) rotate(90)"><tspan x="0" y="-7.5">Alternative Strategy 3</tspan><tspan x="0" y="7.5">(MOP 9)</tspan></text></g>
<g id="t-p1"><ellipse class="y" cx="554" cy="1733" rx="20" ry="23"/><text class="t bk" transform="translate(554,1733) rotate(90)">4.8%</text></g>
<g id="t-p2"><ellipse class="y" cx="331" cy="1733" rx="20" ry="23"/><text class="t ps bk" transform="translate(331,1733) rotate(90)">0.48%</text></g>
</svg>
